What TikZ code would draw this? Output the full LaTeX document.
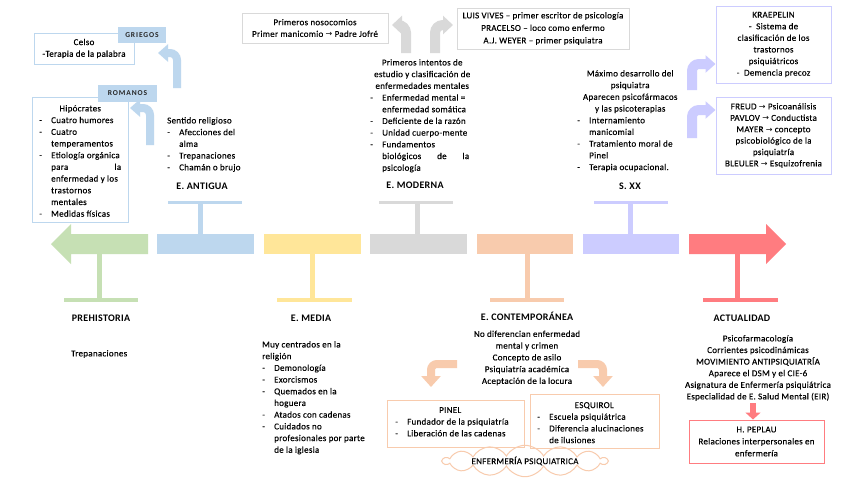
\documentclass[tikz,border=0pt]{standalone}
\usepackage{fontspec}
\setmainfont{Carlito}[LetterSpace=3, UprightFeatures={FakeBold=0.25}]
\newfontfamily\symf{DejaVu Sans}
\usetikzlibrary{arrows.meta,shapes.symbols}
\definecolor{cgreen}{HTML}{C6E0B4}
\definecolor{cblue}{HTML}{BDD7EE}
\definecolor{cyellow}{HTML}{FFE699}
\definecolor{cgray}{HTML}{D9D9D9}
\definecolor{corange}{HTML}{F8CBAD}
\definecolor{cpurple}{HTML}{CCCCFF}
\definecolor{cred}{HTML}{FF7C80}
\newcommand{\lidash}{\makebox[12pt][l]{-}}
\newcommand{\lind}{\hspace*{12pt}}
\newcommand{\rarr}{{\symf\fontsize{8}{8}\selectfont\char"2192}}
\newcommand{\txtfont}{\fontsize{9}{11.7}\selectfont}
\begin{document}
\begin{tikzpicture}[x=1pt,y=-1pt,
  txt/.style={font=\txtfont, inner sep=0pt, align=left},
  ctxt/.style={font=\txtfont, inner sep=0pt, align=center},
  ttl/.style={font=\fontsize{10}{11}\selectfont\bfseries, inner sep=0pt},
  bx/.style={draw, line width=1pt, inner sep=0pt, align=center, font=\txtfont},
  tagbox/.style={fill=cblue, inner sep=0pt, font=\fontsize{7.5}{8}\selectfont\bfseries\addfontfeature{LetterSpace=12}, text=black!85},
  blk/.style={inner sep=0pt, minimum height=20pt},
  bent/.style={line width=8pt, rounded corners=7pt, -{Triangle[width=17pt,length=10pt]}},
  bentg/.style={line width=10pt, rounded corners=8pt, -{Triangle[width=18pt,length=10pt]}}
]
\fill[white] (0,0) rectangle (848,477);
\useasboundingbox (0,0) rectangle (848,477);

% ---------- timeline ----------
\fill[cgreen] (148,234) -- (71,234) -- (71,224) -- (51,244) -- (71,264) -- (71,254) -- (148,254) -- cycle;
\fill[cgreen] (97,254) rectangle (102,298);
\fill[cgreen] (64,298) rectangle (138,302);
\node[blk, fill=cblue, minimum width=97pt] (antigua) at (205.5,244) {};
\fill[cblue] (198,203) rectangle (203,234);
\fill[cblue] (168,201) rectangle (242,204);
\node[blk, fill=cyellow, minimum width=97pt] (media) at (312.5,244) {};
\fill[cyellow] (310,254) rectangle (315,298);
\fill[cyellow] (277,298) rectangle (352,302);
\node[blk, fill=cgray, minimum width=97pt] (moderna) at (418.5,244) {};
\fill[cgray] (415,203) rectangle (420,234);
\fill[cgray] (379,201) rectangle (453,204);
\node[blk, fill=corange, minimum width=96pt] (contemp) at (525,244) {};
\fill[corange] (525,254) rectangle (530,298);
\fill[corange] (490,298) rectangle (564,302);
\node[blk, fill=cpurple, minimum width=96pt] (sxx) at (631,244) {};
\fill[cpurple] (628,203) rectangle (633,234);
\fill[cpurple] (594,201) rectangle (668,204);
\fill[cred] (689,234) -- (766,234) -- (766,224) -- (786,244) -- (766,264) -- (766,254) -- (689,254) -- cycle;
\fill[cred] (735,254) rectangle (740,298);
\fill[cred] (703,298) rectangle (778,302);

% ---------- E. Antigua ----------
\node[bx, draw=cblue, minimum width=100pt, minimum height=31pt] (celso) at (84,48.5) {Celso\\-Terapia de la palabra};
\node[tagbox, minimum width=48pt, minimum height=16pt] (griegos) at (142,35) {GRIEGOS};
\node[draw=cblue, line width=1pt, inner sep=0pt, minimum width=96pt, minimum height=125pt] (hipbox) at (80,159.5) {};
\node[tagbox, minimum width=59pt, minimum height=17pt] (romanos) at (127.5,93.5) {ROMANOS};
\node[txt, anchor=north west] (hiptxt) at (39,105) {\makebox[82pt]{Hipócrates}\\
\lidash Cuatro humores\\
\lidash Cuatro\\
\lind temperamentos\\
\lidash Etiología orgánica\\
\lind \makebox[70pt][s]{para\hfill la}\\
\lind enfermedad y los\\
\lind trastornos\\
\lind mentales\\
\lidash Medidas físicas};
\coordinate (ga) at (177,88);
\draw[bent, cblue] (ga) -- (177,53) -- (158,53);
\coordinate (ra) at (150,145);
\draw[bent, cblue] (ra) -- (150,108) -- (130,108);
\node[txt, anchor=north west] (religioso) at (167,117) {Sentido religioso\\
\lidash Afecciones del\\
\lind alma\\
\lidash Trepanaciones\\
\lidash Chamán o brujo};
\node[ttl] (antiguattl) at (202,186) {E. ANTIGUA};

% ---------- E. Moderna ----------
\node[bx, draw=cgray, minimum width=146pt, minimum height=30pt] (noso) at (315,28) {Primeros nosocomios\\Primer manicomio \rarr\ Padre Jofré};
\coordinate (gl) at (406,53);
\draw[bentg, cgray] (gl) -- (406,25) -- (392,25);
\coordinate (gr) at (435,53);
\draw[bentg, cgray] (gr) -- (435,25) -- (453,25);
\node[bx, draw=cgray, minimum width=172pt, minimum height=41pt, font=\fontsize{9}{12.5}\selectfont] (vives) at (543,28.5) {LUIS VIVES -- primer escritor de psicología\\PRACELSO -- loco como enfermo\\A.J. WEYER -- primer psiquiatra};
\node[txt, anchor=north west] (intentos) at (370,59) {\makebox[104pt]{Primeros intentos de}\\
\makebox[104pt]{estudio y clasificación de}\\
\makebox[104pt]{enfermedades mentales}\\
\lidash Enfermedad mental =\\
\lind enfermedad somática\\
\lidash Deficiente de la razón\\
\lidash Unidad cuerpo-mente\\
\lidash Fundamentos\\
\lind \makebox[87pt][s]{biológicos\hfill de\hfill la}\\
\lind psicología};
\node[ttl] (modernattl) at (415,185) {E. MODERNA};

% ---------- S. XX ----------
\node[txt, anchor=north west] (maximo) at (577,70) {\makebox[106pt]{Máximo desarrollo del}\\
\makebox[106pt]{psiquiatra}\\
\makebox[106pt]{Aparecen psicofármacos}\\
\makebox[106pt]{y las psicoterapias}\\
\lidash Internamiento\\
\lind manicomial\\
\lidash Tratamiento moral de\\
\lind Pinel\\
\lidash Terapia ocupacional.};
\node[ttl] (sxxttl) at (630,186) {S. XX};
\node[bx, draw=cpurple, minimum width=115pt, minimum height=77pt, font=\fontsize{9}{11.6}\selectfont] (kraep) at (773.5,44.5) {KRAEPELIN\\-\ \ Sistema de\\clasificación de los\\trastornos\\psiquiátricos\\-\ \ Demencia precoz};
\node[bx, draw=cpurple, minimum width=115pt, minimum height=77pt, font=\fontsize{9}{11.4}\selectfont] (freud) at (773.5,135.5) {FREUD \rarr\ Psicoanálisis\\PAVLOV \rarr\ Conductista\\MAYER \rarr\ concepto\\psicobiológico de la\\psiquiatría\\BLEULER \rarr\ Esquizofrenia};
\coordinate (pa) at (692,90);
\draw[bent, cpurple, line width=10pt] (pa) -- (692,64) -- (kraep.west |- 0,64);
\coordinate (pb) at (692,138);
\draw[bent, cpurple, line width=10pt] (pb) -- (692,110) -- (freud.west |- 0,110);

% ---------- bottom ----------
\node[ttl] (prehttl) at (101,318) {PREHISTORIA};
\node[txt, anchor=west] (trep) at (71,354) {Trepanaciones};
\node[ttl] (mediattl) at (311,318) {E. MEDIA};
\node[txt, anchor=north west] (mediatxt) at (262,341) {Muy centrados en la\\
religión\\
\lidash Demonología\\
\lidash Exorcismos\\
\lidash Quemados en la\\
\lind hoguera\\
\lidash Atados con cadenas\\
\lidash Cuidados no\\
\lind profesionales por parte\\
\lind de la iglesia};
\node[ttl] (contttl) at (527,316) {E. CONTEMPORÁNEA};
\node[ctxt, font=\fontsize{9}{11.75}\selectfont] (conttxt) at (527,358) {No diferencian enfermedad\\mental y crimen\\Concepto de asilo\\Psiquiatría académica\\Aceptación de la locura};
\node[draw=corange, line width=1pt, inner sep=0pt, minimum width=137pt, minimum height=47pt] (pinel) at (455.5,423.5) {};
\node[txt, anchor=north west] (pineltxt) at (395,407) {\makebox[110pt]{PINEL}\\
\lidash Fundador de la psiquiatría\\
\lidash Liberación de las cadenas};
\node[draw=corange, line width=1pt, inner sep=0pt, minimum width=129pt, minimum height=54pt] (esquirol) at (594.5,421) {};
\node[txt, anchor=north west] (esquiroltxt) at (537,402) {\makebox[114pt]{ESQUIROL}\\
\lidash Escuela psiquiátrica\\
\lidash Diferencia alucinaciones\\
\lind de ilusiones};
\coordinate (oa) at (457,364);
\draw[bent, corange, rounded corners=6pt, -{Triangle[width=19pt,length=11pt]}] (oa) -- (431,364) -- (431,387);
\coordinate (ob) at (578,364);
\draw[bent, corange, rounded corners=6pt, -{Triangle[width=19pt,length=11pt]}] (ob) -- (603,364) -- (603,387);
\node[cloud, draw=corange, line width=1pt, cloud puffs=14, cloud puff arc=120, cloud ignores aspect, minimum width=164pt, minimum height=21pt, inner sep=0pt, font=\txtfont] (cloudn) at (525,461) {ENFERMERÍA PSIQUIATRICA};

\node[ttl] (actttl) at (742,318) {ACTUALIDAD};
\node[ctxt, font=\fontsize{9}{11.6}\selectfont] (acttxt) at (758,368) {Psicofarmacología\\Corrientes psicodinámicas\\MOVIMIENTO ANTIPSIQUIATRÍA\\Aparece el DSM y el CIE-6\\Asignatura de Enfermería psiquiátrica\\Especialidad de E. Salud Mental (EIR)};
\node[bx, draw=cred, minimum width=135pt, minimum height=43pt, font=\fontsize{9}{12}\selectfont] (peplau) at (756.5,441.5) {H. PEPLAU\\Relaciones interpersonales en\\enfermería};
\coordinate (rd) at (753,403);
\draw[cred, line width=6pt, -{Triangle[width=15pt,length=7pt]}] (rd) -- (rd |- peplau.north);
\end{tikzpicture}
\end{document}
